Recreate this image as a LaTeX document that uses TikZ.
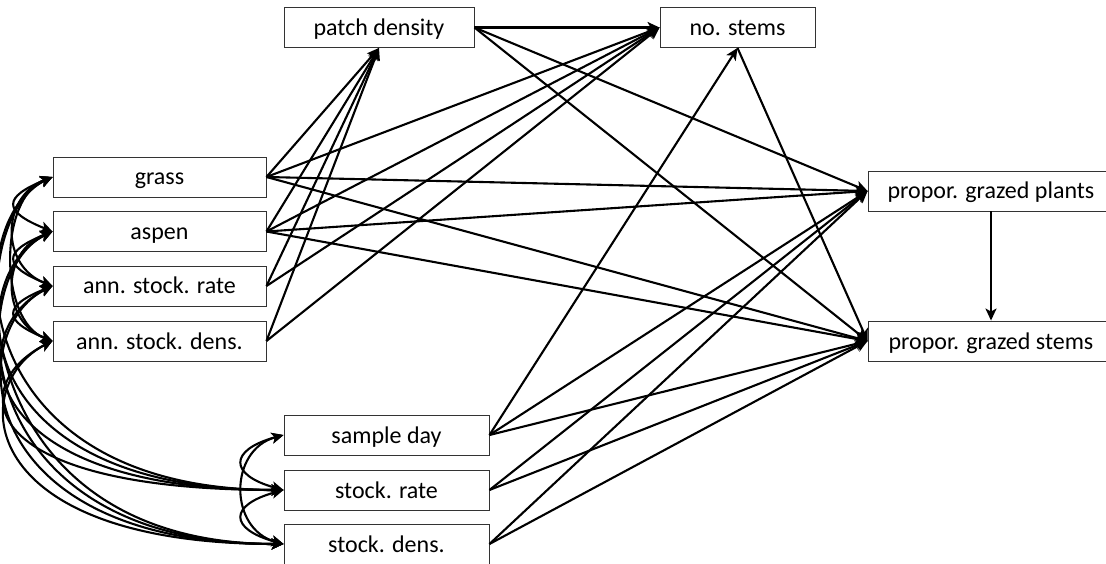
\documentclass[tikz,border=0pt]{standalone}
\usepackage{fontspec}
\setmainfont{Carlito}
\usetikzlibrary{arrows.meta}

\tikzset{
    var/.style={draw=black!80, line width=0.9pt, inner sep=0pt, minimum height=40pt,
        text height=20pt, text depth=4pt, font=\fontsize{24}{28}\selectfont},
    pth/.style={line width=2.1pt, -{Stealth[length=12pt,width=11pt,inset=3pt]}},
    cov/.style={line width=2.1pt, {Stealth[length=12pt,width=11pt,inset=3pt]}-{Stealth[length=12pt,width=11pt,inset=3pt]}}
}

\begin{document}
\begin{tikzpicture}[x=1pt, y=-1pt]
    \path[use as bounding box, clip] (0,0) rectangle (1106,564);

    \node[var, minimum width=190pt] (pd) at (379,27.5) {patch density};
    \node[var, minimum width=155pt] (ns) at (737.5,27.5) {no. stems};
    \node[var, minimum width=213pt] (grass) at (159.5,177) {grass};
    \node[var, minimum width=213pt] (aspen) at (159.5,231.5) {aspen};
    \node[var, minimum width=213pt] (arate) at (159.5,286) {ann. stock. rate};
    \node[var, minimum width=213pt] (adens) at (159.5,341) {ann. stock. dens.};
    \node[var, minimum width=205pt] (sday) at (386.5,435) {sample day};
    \node[var, minimum width=205pt] (srate) at (386.5,490) {stock. rate};
    \node[var, minimum width=205pt] (sdens) at (386.5,544) {stock. dens.};
    \node[var, minimum width=246pt] (plants) at (991,191) {propor. grazed plants};
    \node[var, minimum width=246pt] (stems) at (991,341) {propor. grazed stems};

    % paths
    \draw[pth] (pd.east) -- (ns.west);
    \draw[pth] (pd.east) -- (plants.west);
    \draw[pth] (pd.east) -- (stems.west);
    \draw[pth] (ns.south) -- (stems.west);
    \draw[pth] (grass.east) -- (pd.south);
    \draw[pth] (grass.east) -- (ns.west);
    \draw[pth] (grass.east) -- (plants.west);
    \draw[pth] (grass.east) -- (stems.west);
    \draw[pth] (aspen.east) -- (pd.south);
    \draw[pth] (aspen.east) -- (ns.west);
    \draw[pth] (aspen.east) -- (plants.west);
    \draw[pth] (aspen.east) -- (stems.west);
    \draw[pth] (arate.east) -- (pd.south);
    \draw[pth] (arate.east) -- (ns.west);
    \draw[pth] (adens.east) -- (pd.south);
    \draw[pth] (adens.east) -- (ns.west);
    \draw[pth] (sday.east) -- (ns.south);
    \draw[pth] (sday.east) -- (plants.west);
    \draw[pth] (sday.east) -- (stems.west);
    \draw[pth] (srate.east) -- (plants.west);
    \draw[pth] (srate.east) -- (stems.west);
    \draw[pth] (sdens.east) -- (plants.west);
    \draw[pth] (sdens.east) -- (stems.west);
    \draw[pth] (plants.south) -- (stems.north);

    % covariances
    \draw[cov] (grass.west) .. controls +(-50,20) and +(-50,-20) .. (aspen.west);
    \draw[cov] (grass.west) .. controls +(-52,20) and +(-52,-20) .. (arate.west);
    \draw[cov] (grass.west) .. controls +(-54,20) and +(-54,-20) .. (adens.west);
    \draw[cov] (aspen.west) .. controls +(-50,20) and +(-50,-20) .. (arate.west);
    \draw[cov] (aspen.west) .. controls +(-52,20) and +(-52,-20) .. (adens.west);
    \draw[cov] (arate.west) .. controls +(-50,20) and +(-50,-20) .. (adens.west);
    \draw[cov] (grass.west) .. controls +(-93,43) and +(-324,0) .. (srate.west);
    \draw[cov] (grass.west) .. controls +(-93,43) and +(-324,0) .. (sdens.west);
    \draw[cov] (aspen.west) .. controls +(-90,43) and +(-320,0) .. (srate.west);
    \draw[cov] (aspen.west) .. controls +(-90,43) and +(-320,0) .. (sdens.west);
    \draw[cov] (arate.west) .. controls +(-88,43) and +(-316,0) .. (srate.west);
    \draw[cov] (arate.west) .. controls +(-88,43) and +(-316,0) .. (sdens.west);
    \draw[cov] (adens.west) .. controls +(-85,43) and +(-312,0) .. (srate.west);
    \draw[cov] (adens.west) .. controls +(-85,43) and +(-312,0) .. (sdens.west);
    \draw[cov] (sday.west) .. controls +(-55,15) and +(-55,-15) .. (srate.west);
    \draw[cov] (sday.west) .. controls +(-55,15) and +(-55,-15) .. (sdens.west);
    \draw[cov] (srate.west) .. controls +(-55,15) and +(-55,-15) .. (sdens.west);
\end{tikzpicture}
\end{document}
